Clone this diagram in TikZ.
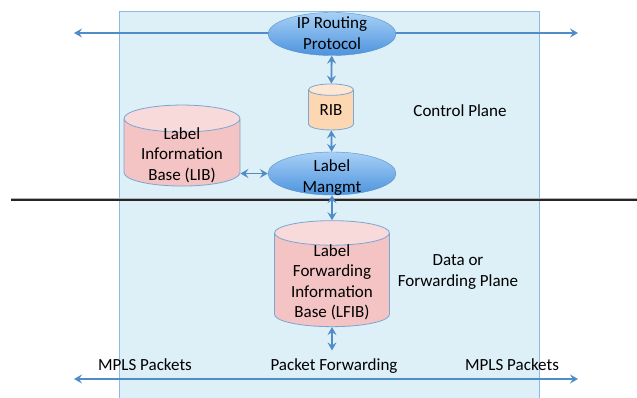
\documentclass[tikz,border=0pt]{standalone}
\usepackage{fontspec}
\setmainfont{Carlito}
\usetikzlibrary{shapes.geometric,arrows.meta}

\definecolor{planeFill}{HTML}{DDEFF7}
\definecolor{planeLine}{HTML}{8DBAE0}
\definecolor{linkBlue}{HTML}{4F8CC8}
\definecolor{ellTop}{HTML}{A7D0F6}
\definecolor{ellBot}{HTML}{4D93DE}
\definecolor{ellLine}{HTML}{5A8FC8}
\definecolor{dbPink}{HTML}{F4C3C3}
\definecolor{dbPinkTop}{HTML}{F9DADA}
\definecolor{dbPeach}{HTML}{FCD7B2}
\definecolor{dbPeachTop}{HTML}{FDE7D2}
\definecolor{dbLine}{HTML}{7AA6D4}

\tikzset{
  link/.style={linkBlue, line width=1.8pt,
    {Stealth[length=8pt,width=9pt,inset=3pt]}-{Stealth[length=8pt,width=9pt,inset=3pt]}},
  bubble/.style={ellipse, draw=ellLine, top color=ellTop, bottom color=ellBot,
    minimum width=128pt, minimum height=43pt, inner sep=0pt},
  db/.style={cylinder, shape border rotate=90, draw=dbLine, line width=0.8pt,
    cylinder uses custom fill, inner sep=0pt, align=center,
    font=\fontsize{17}{20.5}\selectfont},
  pinkdb/.style={db, cylinder body fill=dbPink, cylinder end fill=dbPinkTop},
  txt/.style={align=center, font=\fontsize{17}{21}\selectfont, inner sep=0pt},
  dbtxt/.style={txt, font=\fontsize{17}{20.5}\selectfont}
}

\begin{document}
\begin{tikzpicture}[x=1pt, y=-1pt]
\useasboundingbox (0,0) rectangle (637,398);
% Plane box
\fill[planeFill] (119,11) rectangle (539,400);
\draw[planeLine, line width=0.7pt] (119,400) -- (119,11) -- (539,11) -- (539,400);
% Long lines
\coordinate (topL) at (74,33);
\coordinate (topR) at (578,33);
\coordinate (botL) at (74,379);
\coordinate (botR) at (578,379);
\coordinate (sepL) at (11,200);
\coordinate (sepR) at (637,200);
\draw[link] (topL) -- (topR);
\draw[link] (botL) -- (botR);
\draw[line width=3pt, black!30] (sepL) -- (sepR);
\draw[line width=1.4pt, black!85] (sepL) -- (sepR);
% Nodes
\node[bubble] (ip) at (332,34) {};
\node[txt] at (332,33.5) {IP Routing\\Protocol};
\node[db, cylinder body fill=dbPeach, cylinder end fill=dbPeachTop,
  minimum width=45pt, minimum height=46pt, aspect=0.5] (rib) at (331,110) {RIB};
\node[bubble] (mgmt) at (332,173.5) {};
\node[txt] at (332,177.5) {Label\\Mangmt};
\node[pinkdb, minimum width=116pt, minimum height=81pt, aspect=0.33] (lib) at (182,152.5)
  {\phantom{Information}};
\node[dbtxt] at (182,155) {Label\\Information\\Base (LIB)};
\node[pinkdb, minimum width=115pt, minimum height=106pt, aspect=0.3] (lfib) at (332,280)
  {\phantom{Information}};
\node[dbtxt] at (332,282.5) {Label\\Forwarding\\Information\\Base (LFIB)};
\node[txt] (cp) at (460,111) {Control Plane};
\node[txt] (dp) at (458,272) {Data or\\Forwarding Plane};
\node[txt] (mplsL) at (145,365) {MPLS Packets};
\node[txt] (fwd) at (334,366) {Packet Forwarding};
\node[txt] (mplsR) at (512,365) {MPLS Packets};
% Links
\draw[link] (ip) -- (rib);
\draw[link] (rib) -- (mgmt);
\draw[link] (lib.east |- mgmt.west) -- (mgmt.west);
\draw[link] (mgmt) -- (lfib);
\draw[link, shorten >=8pt] (lfib.bottom) -- (lfib.bottom |- fwd.north);
\end{tikzpicture}
\end{document}
